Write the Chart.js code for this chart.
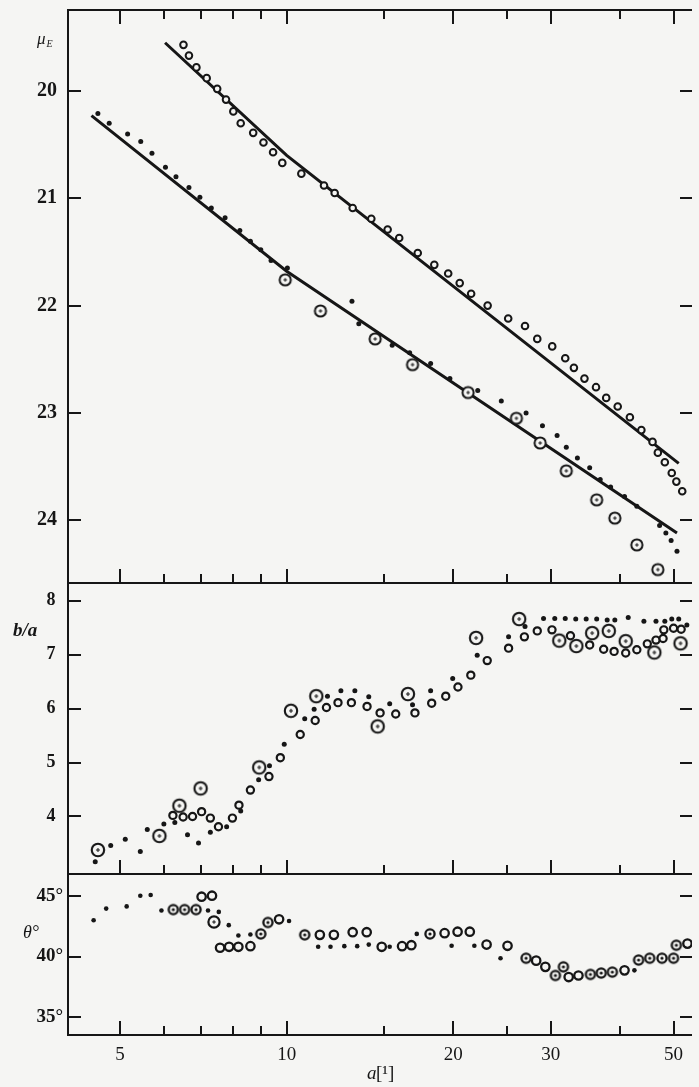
<!DOCTYPE html>
<html>
<head>
<meta charset="utf-8">
<script src="https://cdn.jsdelivr.net/npm/chart.js@4.4.1/dist/chart.umd.min.js"></script>
<style>
html,body{margin:0;padding:0;background:#f5f5f3;overflow:hidden;}
#wrap{position:relative;width:699px;height:1087px;}
#wrap canvas{position:absolute;left:0;top:0;}
</style>
</head>
<body>
<div id="wrap">
<canvas id="c1" width="699" height="1087"></canvas>
<canvas id="c2" width="699" height="1087"></canvas>
<canvas id="c3" width="699" height="1087"></canvas>
</div>
<script>
// ---------- shared axis values ----------
const xTickValues = [5, 6, 7, 8, 9, 10, 15, 20, 25, 30, 40, 50];
const xMajorValues = [5, 10, 20, 30, 50];
const xLabelValues = [5, 10, 20, 30, 50];
const xMin = 4.027, xMax = 53.98;

const muTicks = [20, 21, 22, 23, 24];
const baTicks = [4, 5, 6, 7, 8];
const thTicks = [35, 40, 45];

// ---------- panel 1 : mu_E ----------
const muUpperA = [6.51,6.66,6.87,7.17,7.49,7.77,8.01,8.26,8.70,9.08,9.45,9.82,10.63,11.68,12.21,13.16,14.22,15.22,15.97,17.25,18.48,19.58,20.54,21.54,23.07,25.13,26.95,28.36,30.18,31.86,33.03,34.51,36.21,37.78,39.63,41.69,43.73,45.81,46.83,48.21,49.62,50.58,51.83];
const muUpperMu = [19.57,19.67,19.78,19.88,19.98,20.08,20.19,20.30,20.39,20.48,20.57,20.67,20.77,20.88,20.95,21.09,21.19,21.29,21.37,21.51,21.62,21.70,21.79,21.89,22.00,22.12,22.19,22.31,22.38,22.49,22.58,22.68,22.76,22.86,22.94,23.04,23.16,23.27,23.37,23.46,23.56,23.64,23.73];

const muLowerDotA = [4.56,4.78,5.16,5.45,5.71,6.04,6.31,6.66,6.97,7.31,7.74,8.23,8.60,8.98,9.37,10.03,13.12,13.50,15.51,16.68,18.20,19.72,22.14,24.42,27.07,28.98,30.80,32.00,33.51,35.27,36.85,38.48,40.77,42.91,47.17,48.42,49.49,50.71];
const muLowerDotMu = [20.21,20.30,20.40,20.47,20.58,20.71,20.80,20.90,20.99,21.09,21.18,21.30,21.40,21.48,21.58,21.65,21.96,22.17,22.37,22.44,22.54,22.68,22.79,22.89,23.00,23.12,23.21,23.32,23.42,23.51,23.62,23.69,23.78,23.87,24.05,24.12,24.19,24.29];

const muLowerPlusA = [9.94,11.51,14.45,16.88,21.27,26.00,28.70,32.00,36.31,39.16,42.91,46.83];
const muLowerPlusMu = [21.76,22.05,22.31,22.55,22.81,23.05,23.28,23.54,23.81,23.98,24.23,24.46];

const muUpperLineA = [6.03, 10, 51.08];
const muUpperLineMu = [19.55, 20.60, 23.47];
const muLowerLineA = [4.44, 10, 50.71];
const muLowerLineMu = [20.23, 21.68, 24.12];

// ---------- panel 2 : b/a ----------
const baOpenA = [6.23,6.50,6.76,7.02,7.28,7.53,7.98,8.20,8.60,9.29,9.74,10.58,11.26,11.80,12.38,13.09,13.97,14.75,15.74,17.05,18.28,19.38,20.39,21.51,23.03,25.17,26.88,28.36,30.15,32.56,35.27,37.38,39.04,40.97,42.91,44.82,46.47,47.86,48.01,49.99,51.60];
const baOpenV = [4.02,3.99,4.00,4.09,3.97,3.81,3.97,4.21,4.49,4.74,5.09,5.52,5.78,6.02,6.11,6.11,6.04,5.92,5.90,5.92,6.10,6.23,6.40,6.62,6.89,7.12,7.33,7.44,7.46,7.35,7.18,7.10,7.06,7.03,7.09,7.20,7.27,7.30,7.46,7.49,7.47];

const baPlusA = [4.56,5.89,6.40,6.99,8.92,10.18,11.31,14.60,16.56,21.99,26.30,31.08,33.37,35.63,38.19,40.97,46.15,51.47];
const baPlusV = [3.38,3.64,4.20,4.52,4.91,5.96,6.23,5.67,6.27,7.31,7.66,7.26,7.16,7.40,7.44,7.25,7.04,7.21];

const baDotA = [4.51,4.81,5.11,5.44,5.60,6.00,6.28,6.62,6.93,7.28,7.79,8.26,8.90,9.31,9.90,10.78,11.21,11.85,12.53,13.28,14.07,15.35,16.88,18.20,19.95,22.09,25.17,26.95,29.11,30.50,31.86,33.28,34.76,36.31,37.93,39.16,41.40,44.19,46.47,48.21,49.62,51.08,52.84];
const baDotV = [3.16,3.46,3.58,3.35,3.76,3.86,3.89,3.66,3.51,3.71,3.81,4.10,4.68,4.94,5.34,5.81,5.99,6.23,6.33,6.33,6.22,6.09,6.07,6.33,6.56,6.99,7.33,7.52,7.67,7.67,7.67,7.66,7.66,7.66,7.64,7.64,7.69,7.62,7.62,7.62,7.66,7.66,7.55];

// ---------- panel 3 : theta ----------
const thOpenA = [7.02,7.33,7.58,7.87,8.18,8.60,9.69,11.48,12.17,13.16,13.95,14.85,16.16,16.80,19.29,20.36,21.42,22.97,25.06,28.23,29.33,32.32,33.66,40.77,52.97];
const thOpenV = [44.92,45.00,40.72,40.80,40.80,40.85,43.06,41.78,41.78,42.00,42.00,40.80,40.85,40.93,41.92,42.04,42.04,40.98,40.88,39.66,39.15,38.31,38.44,38.86,41.06];

const thRingA = [6.24,6.54,6.86,8.98,9.25,10.78,18.15,27.07,30.58,31.62,35.38,37.00,38.76,43.23,45.27,47.64,49.99,50.58];
const thRingV = [43.86,43.86,43.86,41.86,42.80,41.78,41.86,39.86,38.44,39.15,38.53,38.64,38.72,39.71,39.86,39.86,39.86,40.93];

const thPlusA = [7.39];
const thPlusV = [42.84];

const thDotA = [4.48,4.72,5.14,5.44,5.68,5.94,7.21,7.54,7.86,8.18,8.60,10.10,11.40,12.00,12.71,13.41,14.07,15.35,17.18,19.86,21.83,24.34,42.48];
const thDotV = [42.98,43.94,44.12,45.00,45.06,43.78,43.78,43.67,42.58,41.73,41.81,42.92,40.80,40.80,40.85,40.85,40.98,40.80,41.86,40.88,40.88,39.86,38.86];

// ---------- styling ----------
const INK = '#161616';
const BG = '#f5f5f3';
const SERIF = '"Liberation Serif", "DejaVu Serif", serif';

function pts(xs, ys) { return xs.map((x, i) => ({ x: x, y: ys[i] })); }

function marker(r, lw, inner) {
  const s = Math.ceil(2 * r + lw + 2) | 0;
  const size = s % 2 ? s + 1 : s;
  const c = document.createElement('canvas');
  c.width = size; c.height = size;
  const g = c.getContext('2d');
  const m = size / 2;
  g.fillStyle = BG;
  g.beginPath(); g.arc(m, m, r, 0, Math.PI * 2); g.fill();
  g.strokeStyle = INK; g.lineWidth = lw;
  g.beginPath(); g.arc(m, m, r, 0, Math.PI * 2); g.stroke();
  if (inner === 'plus') {
    g.lineWidth = 1.1;
    const k = Math.max(1.8, r * 0.32);
    g.beginPath();
    g.moveTo(m - k, m); g.lineTo(m + k, m);
    g.moveTo(m, m - k); g.lineTo(m, m + k);
    g.stroke();
  } else if (inner === 'dot') {
    g.fillStyle = INK;
    g.beginPath(); g.arc(m, m, 1.6, 0, Math.PI * 2); g.fill();
  }
  return c;
}

const plus1 = marker(5.6, 2, 'plus');
const plus2 = marker(6.2, 2.1, 'plus');
const plus3 = marker(5.6, 2.2, 'plus');
const ring3 = marker(4.6, 2.3, 'dot');

function lineSet(xs, ys) {
  return { data: pts(xs, ys), showLine: true, borderColor: INK, borderWidth: 3, pointRadius: 0, fill: false };
}
function openSet(xs, ys, r, w) {
  return { data: pts(xs, ys), pointStyle: 'circle', pointRadius: r, pointBorderWidth: w, pointBorderColor: INK, pointBackgroundColor: BG };
}
function dotSet(xs, ys, r) {
  return { data: pts(xs, ys), pointStyle: 'circle', pointRadius: r, pointBorderWidth: 0, pointBackgroundColor: INK, pointBorderColor: INK };
}
function imgSet(xs, ys, img) {
  return { data: pts(xs, ys), pointStyle: img, pointRadius: 6 };
}

function makeFrame(cfg) {
  return {
    id: 'frame',
    afterDraw(chart) {
      const ctx = chart.ctx, a = chart.chartArea;
      const xs = chart.scales.x, ys = chart.scales.y;
      ctx.save();
      ctx.strokeStyle = INK;
      ctx.lineWidth = 2;
      ctx.beginPath();
      ctx.moveTo(a.left - 1, a.top); ctx.lineTo(a.right, a.top);
      ctx.moveTo(a.left, a.top); ctx.lineTo(a.left, a.bottom);
      ctx.moveTo(a.left - 1, a.bottom); ctx.lineTo(a.right, a.bottom);
      ctx.stroke();
      ctx.beginPath();
      xTickValues.forEach(v => {
        const px = Math.round(xs.getPixelForValue(v));
        const len = xMajorValues.includes(v) ? 14 : 9;
        if (cfg.topTicks) { ctx.moveTo(px, a.top); ctx.lineTo(px, a.top + len); }
        ctx.moveTo(px, a.bottom); ctx.lineTo(px, a.bottom - len);
      });
      cfg.yTicks.forEach(v => {
        const py = Math.round(ys.getPixelForValue(v));
        ctx.moveTo(a.left, py); ctx.lineTo(a.left + 13, py);
        ctx.moveTo(a.right, py); ctx.lineTo(a.right - 12, py);
      });
      ctx.stroke();
      ctx.fillStyle = INK;
      ctx.textBaseline = 'alphabetic';
      ctx.textAlign = 'left';
      cfg.texts.forEach(t => {
        ctx.font = t.font;
        ctx.fillText(t.text, t.x, t.y);
      });
      ctx.restore();
    }
  };
}

function makeChart(id, cfg) {
  return new Chart(document.getElementById(id), {
    type: 'scatter',
    data: { datasets: cfg.datasets },
    options: {
      responsive: false,
      animation: false,
      devicePixelRatio: 1,
      events: [],
      layout: { padding: cfg.padding },
      plugins: { legend: { display: false }, tooltip: { enabled: false } },
      scales: {
        x: {
          type: 'logarithmic', min: xMin, max: xMax, bounds: 'data',
          display: cfg.showX,
          grid: { display: false, drawTicks: false },
          border: { display: false },
          ticks: {
            font: { family: SERIF, size: 19 }, color: INK, padding: 9,
            maxRotation: 0, autoSkip: false,
            callback: v => String(v)
          },
          afterBuildTicks: s => { s.ticks = xLabelValues.map(v => ({ value: v })); },
          afterFit: s => { if (cfg.showX) { s.height = 52; } s.paddingLeft = 0; s.paddingRight = 0; }
        },
        y: {
          type: 'linear', reverse: cfg.reverse, min: cfg.yMin, max: cfg.yMax, bounds: 'data',
          grid: { display: false, drawTicks: false },
          border: { display: false },
          ticks: {
            font: { family: SERIF, size: cfg.tickSize, weight: 'bold', lineHeight: 1 },
            color: INK, padding: cfg.tickPad, autoSkip: false,
            callback: v => cfg.fmt(v)
          },
          afterBuildTicks: s => { s.ticks = cfg.yTicks.map(v => ({ value: v })); },
          afterFit: s => { s.width = 68; s.paddingTop = 0; s.paddingBottom = 0; }
        }
      }
    },
    plugins: [makeFrame(cfg)]
  });
}

// Panel 1
makeChart('c1', {
  padding: { top: 10, bottom: 504, left: 0, right: 0 },
  showX: false, reverse: true, yMin: 19.245, yMax: 24.585,
  yTicks: muTicks, tickSize: 20, tickPad: 11, fmt: v => String(v),
  topTicks: true,
  texts: [
    { text: 'μ', font: 'italic 17px ' + SERIF, x: 37, y: 44 },
    { text: 'E', font: 'italic 10px ' + SERIF, x: 46.5, y: 47 }
  ],
  datasets: [
    imgSet(muLowerPlusA, muLowerPlusMu, plus1),
    openSet(muUpperA, muUpperMu, 3.3, 2),
    dotSet(muLowerDotA, muLowerDotMu, 2.5),
    lineSet(muUpperLineA, muUpperLineMu),
    lineSet(muLowerLineA, muLowerLineMu)
  ]
});

// Panel 2
makeChart('c2', {
  padding: { top: 583, bottom: 213, left: 0, right: 0 },
  showX: false, reverse: false, yMin: 2.934, yMax: 8.328,
  yTicks: baTicks, tickSize: 18, tickPad: 12.5, fmt: v => String(v),
  topTicks: false,
  texts: [
    { text: 'b/a', font: 'italic bold 19px ' + SERIF, x: 13, y: 636 }
  ],
  datasets: [
    imgSet(baPlusA, baPlusV, plus2),
    openSet(baOpenA, baOpenV, 3.6, 2.2),
    dotSet(baDotA, baDotV, 2.5)
  ]
});

// Panel 3
makeChart('c3', {
  padding: { top: 874, bottom: 0, left: 0, right: 0 },
  showX: true, reverse: false, yMin: 33.545, yMax: 46.785,
  yTicks: thTicks, tickSize: 19, tickPad: 5, fmt: v => v + '°',
  topTicks: false,
  texts: [
    { text: 'θ°', font: 'italic 18px ' + SERIF, x: 23, y: 938 },
    { text: 'a', font: 'italic 19px ' + SERIF, x: 367, y: 1079 },
    { text: '[¹]', font: '19px ' + SERIF, x: 376, y: 1079 }
  ],
  datasets: [
    imgSet(thPlusA, thPlusV, plus3),
    imgSet(thRingA, thRingV, ring3),
    openSet(thOpenA, thOpenV, 4.2, 2.3),
    dotSet(thDotA, thDotV, 2.3)
  ]
});
</script>
</body>
</html>
